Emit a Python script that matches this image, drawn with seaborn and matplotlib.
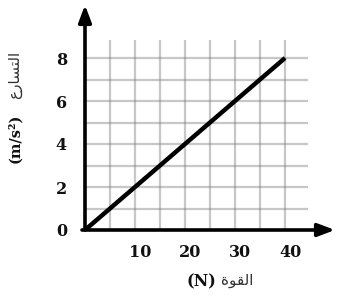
#!/usr/bin/env python3

import seaborn as sns
import matplotlib.pyplot as plt
import matplotlib.transforms as mtransforms
import pandas as pd
import numpy as np

# data
force = [0, 10, 20, 30, 40]
accel = [0, 2, 4, 6, 8]
x_ticks = [10, 20, 30, 40]
y_ticks = [0, 2, 4, 6, 8]
x_grid = [5, 10, 15, 20, 25, 30, 35, 40]
y_grid = [1, 2, 3, 4, 5, 6, 7, 8]

# arabic words given in presentation forms, visual order (matplotlib has no shaping)
ar_accel = "\ufec9\ufead\ufe8e\ufeb4\ufe98\ufedf\ufe8d"   # التسارع
ar_force = "\ufe93\ufeee\ufed8\ufedf\ufe8d"               # القوة

sns.set_theme(style="white")
plt.rcParams['font.family'] = ['DejaVu Serif', 'DejaVu Sans']

W, H = 340, 303
fig = plt.figure(figsize=(W / 100, H / 100), dpi=100)
ax = fig.add_axes([85 / W, 73 / H, 250 / W, 225 / H])
ax.set_xlim(0, 50)
ax.set_ylim(0, 225 / 21.5)

# grid
ax.vlines(x_grid, 0, 8.85, color='#7a7a7a', alpha=0.42, lw=1.6, zorder=1)
ax.hlines(y_grid, 0, 44.5, color='#7a7a7a', alpha=0.42, lw=1.6, zorder=1)

df = pd.DataFrame({"force": force, "accel": accel})
sns.lineplot(data=df, x="force", y="accel", color='black', lw=3.2,
             solid_capstyle='butt', ax=ax, zorder=3)

for s in ax.spines.values():
    s.set_visible(False)

# axis arrows
arrow = dict(arrowstyle='-|>,head_length=0.85,head_width=0.32', lw=2.6,
             color='black', shrinkA=0, shrinkB=0)
ax.annotate('', xy=(0, 1), xytext=(0, 0), xycoords='axes fraction',
            arrowprops=arrow, annotation_clip=False, zorder=4)
ax.annotate('', xy=(1, 0), xytext=(-0.012, 0), xycoords='axes fraction',
            arrowprops=arrow, annotation_clip=False, zorder=4)

ax.set_xticks(x_ticks)
ax.set_yticks(y_ticks)
ax.tick_params(axis='both', length=0, labelsize=11.5)
ax.tick_params(axis='x', pad=10)
ax.tick_params(axis='y', pad=13)
for lbl in ax.get_xticklabels() + ax.get_yticklabels():
    lbl.set_fontweight('bold')
    lbl.set_color('#111111')
shift = mtransforms.ScaledTranslation(5 / 100, 0, fig.dpi_scale_trans)
for lbl in ax.get_xticklabels():
    lbl.set_transform(lbl.get_transform() + shift)
ax.set_xlabel('')
ax.set_ylabel('')

# x label
fig.text(216 / W, 1 - 282 / H, "(N)", ha='right', va='center',
         fontsize=11.5, fontweight='bold', family='DejaVu Serif', color='#111111')
fig.text(221 / W, 1 - 281 / H, ar_force, ha='left', va='center',
         fontsize=11, family='DejaVu Sans', color='#333333')

# y label
fig.text(15 / W, 1 - 114 / H, "(m/s\u00b2)", ha='right', va='center',
         rotation=90, rotation_mode='anchor',
         fontsize=10.5, fontweight='bold', family='DejaVu Serif', color='#111111')
fig.text(15 / W, 1 - 99 / H, ar_accel, ha='left', va='center',
         rotation=90, rotation_mode='anchor',
         fontsize=11, family='DejaVu Sans', color='#333333')

fig.savefig("out.png", dpi=100)
